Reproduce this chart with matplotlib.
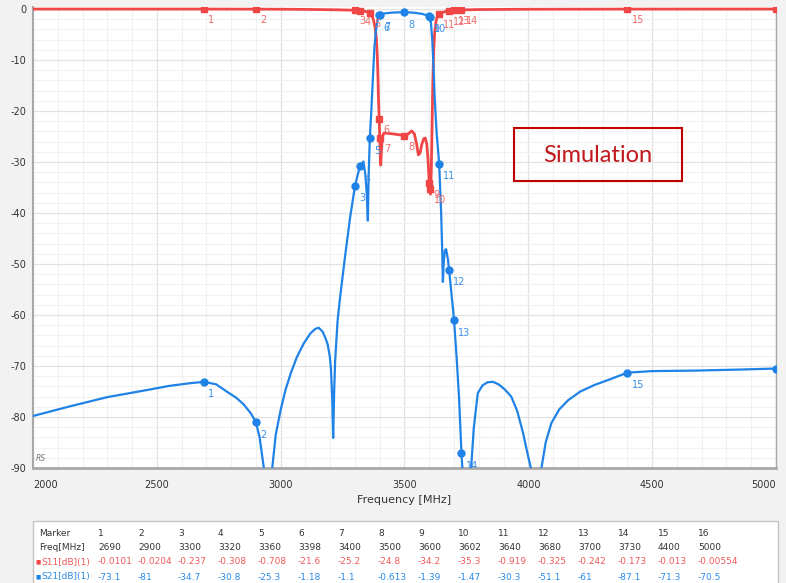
import numpy as np
import matplotlib
matplotlib.use("Agg")
import matplotlib.pyplot as plt
from matplotlib.patches import Rectangle
from matplotlib.ticker import MultipleLocator

plt.rcParams["axes.unicode_minus"] = False

# S21 trace (MHz, dB)
s21_f = [2000, 2150, 2300, 2450, 2550, 2630, 2690, 2740, 2785, 2820, 2850, 2880, 2900,
         2915, 2932, 2948, 2966, 2980, 3000, 3020, 3041, 3065, 3094, 3120, 3140, 3154,
         3170, 3183, 3190, 3198, 3203, 3208, 3212, 3216, 3220, 3230, 3240, 3260, 3280,
         3300, 3320, 3334, 3342, 3348, 3352, 3355, 3360, 3366, 3372, 3378, 3384, 3390,
         3398, 3400, 3420, 3450, 3500, 3540, 3570, 3590, 3600, 3602, 3607, 3612, 3617,
         3622, 3630, 3640, 3648, 3652, 3655, 3658, 3663, 3668, 3675, 3680, 3690, 3700,
         3710, 3720, 3730, 3736, 3750, 3769, 3780, 3796, 3815, 3835, 3857, 3880, 3905,
         3931, 3955, 3979, 3995, 4012, 4032, 4053, 4070, 4093, 4125, 4161, 4210, 4268,
         4330, 4400, 4500, 4673, 4850, 5000]
s21_db = [-79.8, -77.9, -76.1, -74.8, -73.9, -73.4, -73.1, -73.6, -75.1, -76.2, -77.5, -79.3, -81.0,
          -84.0, -90.0, -105.0, -90.0, -83.5, -78.6, -74.6, -71.4, -68.3, -65.5, -63.6, -62.7, -62.5,
          -63.3, -64.8, -65.8, -68.0, -70.5, -76.0, -84.1, -75.0, -69.0, -61.0, -56.5, -48.5, -41.0,
          -34.7, -30.8, -29.9, -32.5, -36.5, -41.5, -33.0, -25.3, -20.0, -14.0, -8.0, -4.5, -2.5,
          -1.18, -1.1, -0.85, -0.7, -0.613, -0.72, -0.95, -1.2, -1.39, -1.47, -2.8, -6.0, -11.0,
          -17.5, -24.5, -30.3, -40.0, -47.0, -53.5, -50.0, -47.3, -47.1, -49.0, -51.1, -56.0, -61.0,
          -68.0, -76.0, -87.1, -92.0, -105.0, -90.0, -82.0, -75.3, -73.8, -73.2, -73.1, -73.6, -74.6,
          -76.0, -78.8, -83.2, -86.8, -90.4, -105.0, -90.0, -85.0, -81.2, -78.5, -76.7, -75.0, -73.7,
          -72.6, -71.3, -71.0, -70.9, -70.7, -70.5]

# S11 trace
s11_f = [2000, 2690, 2900, 3050, 3150, 3230, 3300, 3320, 3340, 3360, 3368, 3375, 3381, 3386,
         3390, 3393, 3395, 3398, 3400, 3402, 3404, 3407, 3411, 3417, 3440, 3470, 3500, 3515,
         3529, 3540, 3549, 3556, 3563, 3570, 3578, 3584, 3590, 3595, 3600, 3602, 3605, 3608,
         3611, 3614, 3618, 3622, 3628, 3634, 3640, 3660, 3680, 3700, 3730, 3800, 4000, 4400, 5000]
s11_db = [-0.005, -0.0101, -0.0204, -0.05, -0.1, -0.15, -0.237, -0.308, -0.45, -0.708, -1.2, -2.2, -3.5, -5.5,
          -9.0, -13.5, -17.8, -21.6, -25.2, -28.5, -30.6, -27.5, -25.0, -24.3, -24.4, -24.6, -24.8, -24.5,
          -23.9, -24.5, -26.5, -28.6, -28.2, -26.5, -25.4, -25.3, -26.5, -29.5, -34.2, -35.3, -36.3, -32.0,
          -24.0, -15.0, -8.0, -4.5, -2.2, -1.3, -0.919, -0.55, -0.325, -0.242, -0.173, -0.1, -0.04, -0.013, -0.0055]

# marker table
marker_no = list(range(1, 17))
marker_f = [2690, 2900, 3300, 3320, 3360, 3398, 3400, 3500, 3600, 3602, 3640, 3680, 3700, 3730, 4400, 5000]
s11_mk = ["-0.0101", "-0.0204", "-0.237", "-0.308", "-0.708", "-21.6", "-25.2", "-24.8",
          "-34.2", "-35.3", "-0.919", "-0.325", "-0.242", "-0.173", "-0.013", "-0.00554"]
s21_mk = ["-73.1", "-81", "-34.7", "-30.8", "-25.3", "-1.18", "-1.1", "-0.613",
          "-1.39", "-1.47", "-30.3", "-51.1", "-61", "-87.1", "-71.3", "-70.5"]

W, H = 786, 583
RED = "#f04646"
BLUE = "#1f82e6"

def px(x, y):
    # pixel position -> figure fraction
    return x / W, 1 - y / H

fig = plt.figure(figsize=(W / 100, H / 100), dpi=100)
fig.patch.set_facecolor("#f2f2f2")
l, b = px(33, 468)
r, t = px(776, 7)
ax = fig.add_axes([l, b, r - l, t - b])
ax.set_facecolor("white")

ax.plot(s11_f, s11_db, color=RED, lw=2.0, zorder=3)
ax.plot(s21_f, s21_db, color=BLUE, lw=1.6, zorder=4)

s11_vals = [float(v) for v in s11_mk]
s21_vals = [float(v) for v in s21_mk]
ax.plot(marker_f, s11_vals, "s", color=RED, ms=4, zorder=5)
ax.plot(marker_f, s21_vals, "o", color=BLUE, ms=5, zorder=6)
for n, f, a, c in zip(marker_no, marker_f, s11_vals, s21_vals):
    t1 = ax.annotate(str(n), (f, a), xytext=(3, -8), textcoords="offset points",
                     color="#f26a6a", fontsize=7, ha="left", va="center", zorder=7)
    t2 = ax.annotate(str(n), (f, c), xytext=(3, -9), textcoords="offset points",
                     color="#3a90e6", fontsize=7, ha="left", va="center", zorder=7)
    for tt in (t1, t2):
        tt.set_clip_box(ax.bbox)
        tt.set_clip_on(True)

ax.set_xlim(2000, 5000)
ax.set_ylim(-90, 0.4)
ax.xaxis.set_major_locator(MultipleLocator(500))
ax.xaxis.set_minor_locator(MultipleLocator(100))
ax.yaxis.set_major_locator(MultipleLocator(10))
ax.yaxis.set_minor_locator(MultipleLocator(2))
ax.grid(which="major", color="#e2e2e2", lw=0.9)
ax.grid(which="minor", color="#f1f1f1", lw=0.8)
ax.set_axisbelow(True)
ax.tick_params(which="both", length=0, labelsize=7, colors="#333333")
ax.tick_params(axis="x", pad=9)
ax.tick_params(axis="y", pad=5)
ax.set_xticks([2000, 2500, 3000, 3500, 4000, 4500, 5000])
ax.set_xticklabels(["2000", "2500", "3000", "3500", "4000", "4500", "5000"])
xl = ax.get_xticklabels()
xl[0].set_ha("left")
xl[-1].set_ha("right")
ax.set_xlabel("Frequency [MHz]", fontsize=8, color="#333333", labelpad=3)

for side in ["left", "bottom", "right"]:
    ax.spines[side].set_color("#a8a8a8")
ax.spines["left"].set_linewidth(1.5)
ax.spines["bottom"].set_linewidth(2.0)
ax.spines["right"].set_linewidth(1.0)
ax.spines["top"].set_visible(False)

ax.text(0.004, 0.01, "RS", transform=ax.transAxes, fontsize=5.5, style="italic",
        color="#777777", ha="left", va="bottom")

# "Simulation" box
x0, y0 = px(514, 181)
x1, y1 = px(682, 128)
fig.add_artist(Rectangle((x0, y0), x1 - x0, y1 - y0, transform=fig.transFigure,
                         fill=False, edgecolor="#c00000", lw=1.5, zorder=10))
fig.text(*px(598, 156), "Simulation", fontsize=17, family="Lato", color="#c0181c",
         ha="center", va="center")

# marker table below the chart
tx0, ty0 = px(33, 590)
tx1, ty1 = px(778, 521)
fig.add_artist(Rectangle((tx0, ty0), tx1 - tx0, ty1 - ty0, transform=fig.transFigure,
                         facecolor="white", edgecolor="#c4c4c4", lw=1.0, zorder=1))
rows_y = [533, 548, 562, 577]
fig.text(*px(39, rows_y[0]), "Marker", fontsize=6.5, color="#333333", va="center")
fig.text(*px(39, rows_y[1]), "Freq[MHz]", fontsize=6.5, color="#333333", va="center")
fig.text(*px(35, rows_y[2]), "\u25a0", fontsize=4, color=RED, va="center")
fig.text(*px(41, rows_y[2]), "S11[dB](1)", fontsize=6.5, color="#f05a5a", va="center")
fig.text(*px(35, rows_y[3]), "\u25a0", fontsize=4, color=BLUE, va="center")
fig.text(*px(41, rows_y[3]), "S21[dB](1)", fontsize=6.5, color="#2a8ae6", va="center")
for i, n in enumerate(marker_no):
    x = 98 + 40 * i
    fig.text(*px(x, rows_y[0]), str(n), fontsize=6.5, color="#333333", va="center")
    fig.text(*px(x, rows_y[1]), str(marker_f[i]), fontsize=6.5, color="#333333", va="center")
    fig.text(*px(x, rows_y[2]), s11_mk[i], fontsize=6.5, color="#f05a5a", va="center")
    fig.text(*px(x, rows_y[3]), s21_mk[i], fontsize=6.5, color="#2a8ae6", va="center")

fig.savefig("out.png", dpi=100, facecolor=fig.get_facecolor())
